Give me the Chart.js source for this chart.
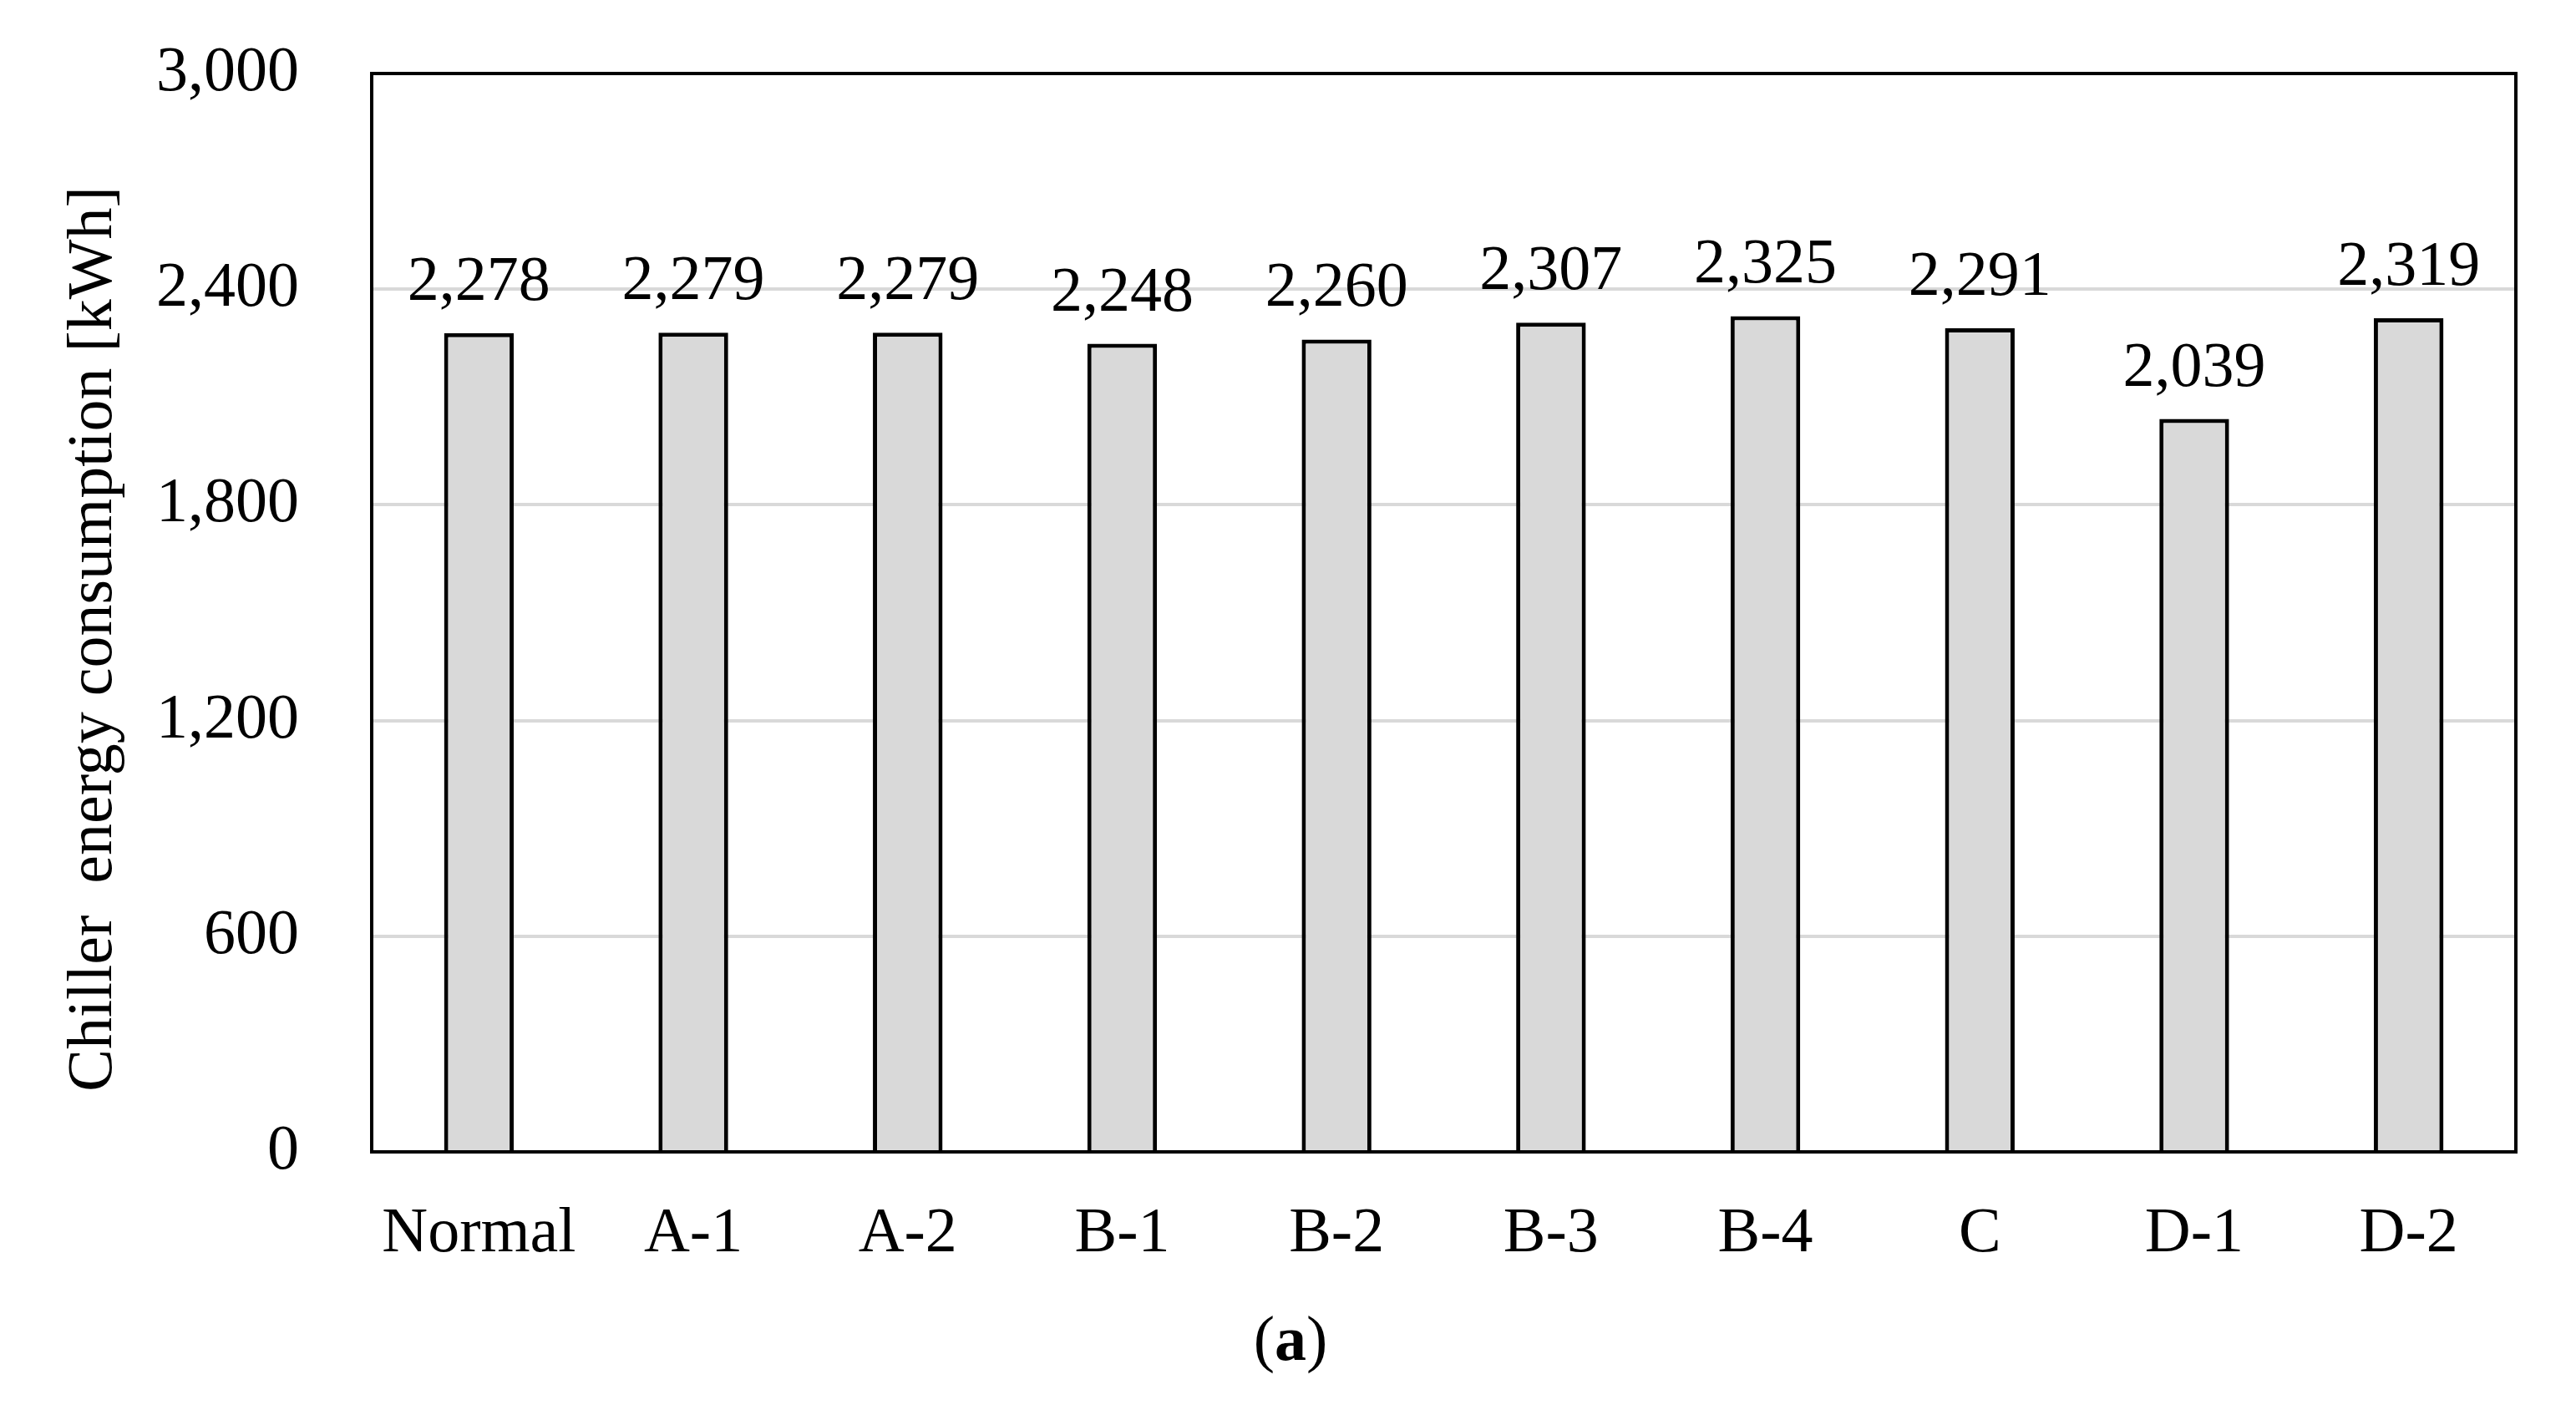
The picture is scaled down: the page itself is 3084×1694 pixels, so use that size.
<!DOCTYPE html>
<html>
<head>
<meta charset="utf-8">
<script src="https://cdn.jsdelivr.net/npm/chart.js@4.4.1/dist/chart.umd.min.js"></script>
<style>
  html, body { margin: 0; padding: 0; background: #fff; }
  canvas { display: block; }
</style>
</head>
<body>
<canvas id="chillerChart" width="3084" height="1694"></canvas>
<script>
const categories = ['Normal', 'A-1', 'A-2', 'B-1', 'B-2', 'B-3', 'B-4', 'C', 'D-1', 'D-2'];
const energyValues = [2278, 2279, 2279, 2248, 2260, 2307, 2325, 2291, 2039, 2319];
const yTicks = [0, 600, 1200, 1800, 2400, 3000];

const FONT = '"Liberation Serif", "Times New Roman", serif';
const FONT_SIZE = 76;

// value labels above each bar
const barLabels = {
    id: 'barLabels',
    afterDatasetsDraw(chart) {
        const ctx = chart.ctx;
        const meta = chart.getDatasetMeta(0);
        ctx.save();
        ctx.font = FONT_SIZE + 'px ' + FONT;
        ctx.fillStyle = '#000';
        ctx.textAlign = 'center';
        ctx.textBaseline = 'alphabetic';
        meta.data.forEach(function (bar, i) {
            ctx.fillText(energyValues[i].toLocaleString('en-US'), bar.x, bar.y - 40);
        });
        ctx.restore();
    }
};

// frame round the plot, axis title and the (a) caption
const frameAndText = {
    id: 'frameAndText',
    afterDraw(chart) {
        const ctx = chart.ctx;
        const a = chart.chartArea;
        ctx.save();
        ctx.strokeStyle = '#000';
        ctx.lineWidth = 4;
        ctx.strokeRect(a.left, a.top, a.right - a.left, a.bottom - a.top);

        ctx.font = FONT_SIZE + 'px ' + FONT;
        ctx.fillStyle = '#000';
        ctx.translate(133, 765);
        ctx.rotate(-Math.PI / 2);
        ctx.textAlign = 'center';
        ctx.textBaseline = 'alphabetic';
        ctx.fillText('Chiller  energy consumption [kWh]', 0, 0);
        ctx.restore();

        ctx.save();
        ctx.fillStyle = '#000';
        ctx.textBaseline = 'alphabetic';
        const normal = FONT_SIZE + 'px ' + FONT;
        const bold = 'bold ' + FONT_SIZE + 'px ' + FONT;
        ctx.font = normal;
        const w1 = ctx.measureText('(').width;
        const w3 = ctx.measureText(')').width;
        ctx.font = bold;
        const w2 = ctx.measureText('a').width;
        let x = 1545 - (w1 + w2 + w3) / 2;
        const y = 1628;
        ctx.font = normal;
        ctx.fillText('(', x, y);
        x += w1;
        ctx.font = bold;
        ctx.fillText('a', x, y);
        x += w2;
        ctx.font = normal;
        ctx.fillText(')', x, y);
        ctx.restore();
    }
};

const chart = new Chart(document.getElementById('chillerChart').getContext('2d'), {
    type: 'bar',
    data: {
        labels: categories,
        datasets: [{
            data: energyValues,
            backgroundColor: '#d9d9d9',
            borderColor: '#000',
            borderWidth: 5,
            barPercentage: 0.325,
            categoryPercentage: 1.0
        }]
    },
    options: {
        responsive: false,
        animation: false,
        devicePixelRatio: 1,
        layout: {
            padding: { left: 0, top: 88, right: 72, bottom: 165 }
        },
        plugins: {
            legend: { display: false },
            tooltip: { enabled: false }
        },
        scales: {
            x: {
                grid: { display: false },
                border: { display: false },
                ticks: {
                    color: '#000',
                    padding: 45,
                    font: { family: FONT, size: FONT_SIZE }
                },
                afterFit(scale) {
                    scale.height = 150;
                    scale.paddingLeft = 0;
                    scale.paddingRight = 0;
                }
            },
            y: {
                min: 0,
                max: 3000,
                afterBuildTicks(scale) {
                    scale.ticks = yTicks.map(function (v) { return { value: v }; });
                },
                grid: {
                    color: '#d9d9d9',
                    lineWidth: 4,
                    drawTicks: false
                },
                border: { display: false },
                ticks: {
                    color: '#000',
                    padding: 87,
                    font: { family: FONT, size: FONT_SIZE },
                    callback: function (v) { return Number(v).toLocaleString('en-US'); }
                },
                afterFit(scale) {
                    scale.width = 445;
                    scale.paddingTop = 0;
                    scale.paddingBottom = 0;
                }
            }
        }
    },
    plugins: [barLabels, frameAndText]
});
</script>
</body>
</html>
